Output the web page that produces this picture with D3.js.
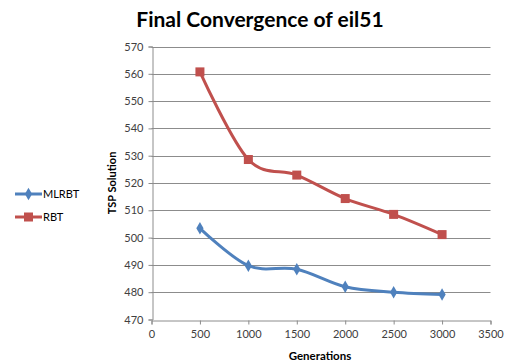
<!DOCTYPE html>
<html><head><meta charset="utf-8">
<script src="https://cdn.jsdelivr.net/npm/d3@7"></script>
<style>body{margin:0;background:#fff}svg{display:block}text{font-family:Lato,"Open Sans",sans-serif}</style>
</head><body><svg id="c" width="508" height="363"></svg>
<script>
const generations = [500, 1000, 1500, 2000, 2500, 3000];
const mlrbt = [503.4, 489.7, 488.4, 482.0, 480.0, 479.2];
const rbt = [560.7, 528.6, 522.9, 514.3, 508.5, 501.1];
const xTicks = [0, 500, 1000, 1500, 2000, 2500, 3000, 3500];
const yTicks = [470, 480, 490, 500, 510, 520, 530, 540, 550, 560, 570];
const seriesNames = ["MLRBT", "RBT"];
const colors = ["#4F81BD", "#C0504D"];

const svg = d3.select("#c");
const x = d3.scaleLinear().domain([0, 3500]).range([151.5, 490.5]);
const y = d3.scaleLinear().domain([470, 570]).range([319.5, 46.5]);

// gridlines
svg.append("g").selectAll("line").data(yTicks.slice(1)).join("line")
  .attr("x1", x(0)).attr("x2", x(3500))
  .attr("y1", d => Math.round(y(d)) + 0.5).attr("y2", d => Math.round(y(d)) + 0.5)
  .attr("stroke", "#8c8c8c").attr("stroke-width", 1);

// axes
const yAxis = d3.axisLeft(y).tickValues(yTicks).tickSize(4).tickPadding(5).tickFormat(d3.format("d"));
const gy = svg.append("g").attr("transform", `translate(${Math.round(x(0))+0.5},0)`).call(yAxis);
const xAxis = d3.axisBottom(x).tickValues(xTicks).tickSize(4).tickPadding(6).tickFormat(d3.format("d"));
const gx = svg.append("g").attr("transform", `translate(0,${Math.round(y(470))+0.5})`).call(xAxis);
[gx, gy].forEach(g => {
  g.select(".domain").attr("stroke", "#8c8c8c");
  g.selectAll(".tick line").attr("stroke", "#8c8c8c");
  g.selectAll(".tick text").attr("fill", "#404040").style("font-size", "11px")
    .style("font-family", "Lato, 'Open Sans', sans-serif");
});

// lines
const data = [mlrbt, rbt];
const line = d3.line().x((d, i) => x(generations[i])).y(d => y(d)).curve(d3.curveCardinal.tension(0));
data.forEach((vals, k) => {
  svg.append("path").datum(vals).attr("d", line).attr("fill", "none")
    .attr("stroke", colors[k]).attr("stroke-width", 3).attr("stroke-linejoin", "round");
});
// markers
const diamond = d3.symbol().type(d3.symbolDiamond).size(45);
svg.append("g").selectAll("path").data(mlrbt).join("path")
  .attr("transform", (d, i) => `translate(${x(generations[i])},${y(d)})`)
  .attr("d", diamond).attr("fill", colors[0]);
svg.append("g").selectAll("rect").data(rbt).join("rect")
  .attr("x", (d, i) => x(generations[i]) - 4.5).attr("y", d => y(d) - 4.5)
  .attr("width", 9).attr("height", 9).attr("fill", colors[1]);

// title
svg.append("text").attr("x", 260).attr("y", 27).attr("text-anchor", "middle")
  .style("font-size", "21px").style("font-weight", "bold").attr("fill", "#000")
  .text("Final Convergence of eil51");
// axis titles
svg.append("text").attr("transform", "translate(116,183) rotate(-90)").attr("text-anchor", "middle")
  .style("font-size", "11px").style("font-weight", "bold").attr("fill", "#000").text("TSP Solution");
svg.append("text").attr("x", 320).attr("y", 360).attr("text-anchor", "middle")
  .style("font-size", "11.5px").style("font-weight", "bold").attr("fill", "#000").text("Generations");

// legend
const legY = [194, 217];
seriesNames.forEach((n, k) => {
  const g = svg.append("g");
  g.append("line").attr("x1", 15).attr("x2", 42).attr("y1", legY[k]).attr("y2", legY[k])
    .attr("stroke", colors[k]).attr("stroke-width", 3);
  if (k === 0) g.append("path").attr("transform", `translate(28.5,${legY[k]})`).attr("d", diamond).attr("fill", colors[k]);
  else g.append("rect").attr("x", 24).attr("y", legY[k] - 4.5).attr("width", 9).attr("height", 9).attr("fill", colors[k]);
  g.append("text").attr("x", 43).attr("y", legY[k] + 4).style("font-size", "11px").attr("fill", "#000").text(n);
});
</script></body></html>
